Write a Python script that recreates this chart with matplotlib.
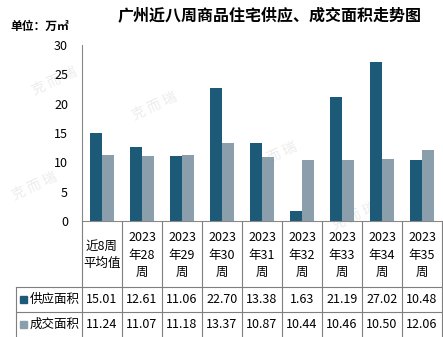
import matplotlib.pyplot as plt
import numpy as np

plt.rcParams['font.family'] = ['Noto Sans CJK SC', 'DejaVu Sans']

categories = ["近8周\n平均值", "2023\n年28\n周", "2023\n年29\n周", "2023\n年30\n周", "2023\n年31\n周",
              "2023\n年32\n周", "2023\n年33\n周", "2023\n年34\n周", "2023\n年35\n周"]
supply = [15.01, 12.61, 11.06, 22.70, 13.38, 1.63, 21.19, 27.02, 10.48]
deal = [11.24, 11.07, 11.18, 13.37, 10.87, 10.44, 10.46, 10.50, 12.06]
series_names = ["供应面积", "成交面积"]
colors = ["#1c5a78", "#8a9eac"]

W, H = 443, 337
fig = plt.figure(figsize=(W / 100, H / 100), dpi=100)

# plot area in pixels
left, right, top, bottom = 82, 442, 45, 221
ax = fig.add_axes([left / W, 1 - bottom / H, (right - left) / W, (bottom - top) / H])
n = len(categories)
x = np.arange(n)
bw = 0.29
ax.bar(x - bw / 2, supply, bw, color=colors[0])
ax.bar(x + bw / 2, deal, bw, color=colors[1])
ax.set_xlim(-0.5, n - 0.5)
ax.set_ylim(0, 30)
ax.set_yticks(range(0, 31, 5))
ax.set_xticks([])
ax.tick_params(axis='y', length=0, labelsize=9, pad=10)
for s in ["top", "right"]:
    ax.spines[s].set_visible(False)
ax.spines["left"].set_color("#888888")
ax.spines["bottom"].set_color("#888888")
ax.patch.set_visible(False)

# table + text overlay in pixel coords
t = fig.add_axes([0, 0, 1, 1], zorder=-1)
t.set_xlim(0, W)
t.set_ylim(H, 0)
t.axis("off")

cw = (right - left) / n
lc = "#7f7f7f"
row1, row2 = 287, 312
for k in range(n + 1):
    t.plot([left + k * cw] * 2, [bottom, H], color=lc, lw=0.8)
t.plot([16, 16], [row1, H], color=lc, lw=0.8)
t.plot([16, W], [row1, row1], color=lc, lw=0.8)
t.plot([16, W], [row2, row2], color=lc, lw=0.8)

for i, c in enumerate(categories):
    t.text(left + (i + 0.5) * cw, (bottom + row1) / 2 + 1, c, ha="center", va="center",
           fontsize=9, linespacing=1.45)

for r, (vals, name, col) in enumerate(zip([supply, deal], series_names, colors)):
    yc = (row1 + row2) / 2 + r * (row2 - row1)
    t.add_patch(plt.Rectangle((20, yc - 4), 7, 7, color=col))
    t.text(30, yc, name, ha="left", va="center", fontsize=9)
    for i, v in enumerate(vals):
        t.text(left + (i + 0.5) * cw, yc, f"{v:.2f}", ha="center", va="center", fontsize=9)

fig.text(270 / W, 1 - 16 / H, "广州近八周商品住宅供应、成交面积走势图", ha="center", va="center",
         fontsize=11.5, fontweight="bold")
fig.text(10 / W, 1 - 26 / H, "单位：万㎡", ha="left", va="center", fontsize=8.5, fontweight="bold")

# faint watermark
for (wx, wy) in [(30, 95), (130, 120), (10, 200), (250, 170), (330, 230)]:
    t.text(wx, wy, "克 而 瑞", fontsize=10, color="#ececec", rotation=25, zorder=-5)

fig.savefig("out.png", dpi=100)
